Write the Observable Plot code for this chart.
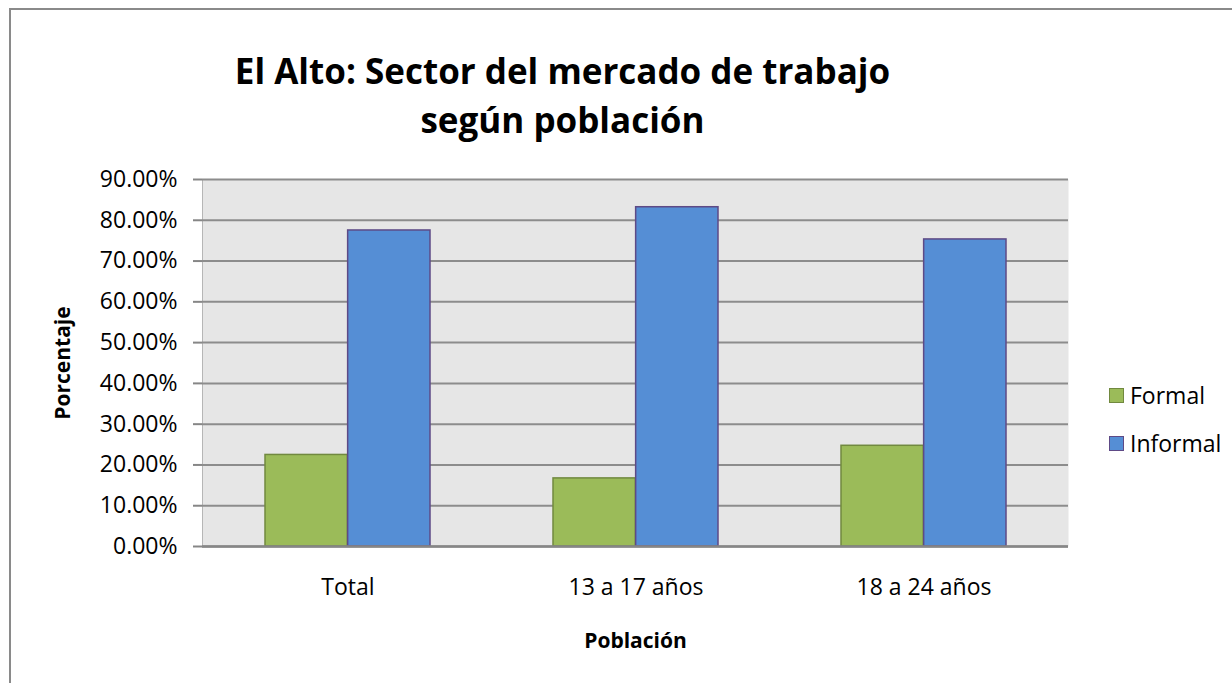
<!DOCTYPE html>
<html>
<head>
<meta charset="utf-8">
<script src="https://cdn.jsdelivr.net/npm/d3@7"></script>
<script src="https://cdn.jsdelivr.net/npm/@observablehq/plot@0.6"></script>
<style>
  html, body { margin: 0; padding: 0; background: #fff; }
  #wrap { position: relative; width: 1232px; height: 683px; overflow: hidden; background: #fff; }
  #border { position: absolute; left: 9px; top: 8px; width: 1400px; height: 900px;
            border-left: 2px solid #8a8a8a; border-top: 2px solid #8a8a8a; pointer-events: none; }
  #chart svg text { font-family: "Open Sans", sans-serif; fill: #000; }
  #chart svg g[aria-label^="x-axis"] text, #chart svg g[aria-label^="y-axis"] text { font-size: 23px; }
  #chart svg g[aria-label^="y-axis"] line, #chart svg g[aria-label^="y-axis"] path { stroke-width: 2px; }
  #legend { position: absolute; left: 1109px; top: 0; font-family: "Open Sans", sans-serif; font-size: 23px; color: #000; }
  .row { position: absolute; left: 0; display: flex; align-items: center; height: 28px; white-space: nowrap; }
  .sw { width: 13px; height: 13px; border: 1.5px solid; margin-right: 6px; }
</style>
</head>
<body>
<div id="wrap">
  <div id="chart"></div>
  <div id="legend"></div>
  <div id="border"></div>
</div>
<script>
const titleText = "El Alto: Sector del mercado de trabajo\nsegún población";
const yLabel = "Porcentaje";
const xLabel = "Población";
const categories = ["Total", "13 a 17 años", "18 a 24 años"];
const series = ["Formal", "Informal"];
const formalValues = [0.2245, 0.167, 0.247];
const informalValues = [0.775, 0.832, 0.753];
const yTicks = [0, 0.1, 0.2, 0.3, 0.4, 0.5, 0.6, 0.7, 0.8, 0.9];
const fills = {Formal: "#9bbb59", Informal: "#558ed5"};
const strokes = {Formal: "#71893f", Informal: "#5e4a86"};

const rows = categories.flatMap((c, i) => [
  {category: c, series: "Formal", value: formalValues[i]},
  {category: c, series: "Informal", value: informalValues[i]}
]);

const W = 1232, H = 683, mL = 202, mR = 164, mT = 179, mB = 137;
const pInner = 0.4274, pOuter = 0.2137;
const step = (W - mL - mR) / (categories.length - pInner + 2 * pOuter);
const half = step * (1 - pInner) / 2;

const chart = Plot.plot({
  width: W, height: H,
  marginLeft: mL, marginRight: mR, marginTop: mT, marginBottom: mB,
  style: {fontFamily: "Open Sans, sans-serif", fontSize: "23px", color: "#868686", background: "transparent", overflow: "visible"},
  x: {domain: categories, paddingInner: pInner, paddingOuter: pOuter, tickSize: 0, tickPadding: 32, label: null, axis: "bottom"},
  y: {domain: [0, 0.9], ticks: yTicks, tickFormat: d => (d * 100).toFixed(2) + "%", tickSize: 9, tickPadding: 16, line: true, label: null},
  marks: [
    Plot.frame({fill: "#e6e6e6", stroke: "none"}),
    Plot.ruleY(yTicks, {stroke: "#8c8c8c", strokeWidth: 2}),
    Plot.barY(rows.filter(d => d.series === "Formal"), {x: "category", y: "value", fill: fills.Formal, stroke: strokes.Formal, strokeWidth: 1.5, insetLeft: 0, insetRight: half}),
    Plot.barY(rows.filter(d => d.series === "Informal"), {x: "category", y: "value", fill: fills.Informal, stroke: strokes.Informal, strokeWidth: 1.5, insetLeft: half, insetRight: 0}),
    Plot.ruleY([0], {stroke: "#868686", strokeWidth: 2.5}),
    Plot.text([titleText], {frameAnchor: "top", dx: 562 - 635, dy: -87, fontSize: 35, fontWeight: "bold", lineHeight: 1.4, lineAnchor: "middle", textAnchor: "middle", fill: "#000"}),
    Plot.text([yLabel], {frameAnchor: "left", dx: -139, rotate: -90, fontSize: 21, fontWeight: "bold", lineAnchor: "middle", textAnchor: "middle", fill: "#000"}),
    Plot.text([xLabel], {frameAnchor: "bottom", dy: 95, fontSize: 21, fontWeight: "bold", lineAnchor: "middle", textAnchor: "middle", fill: "#000"})
  ]
});
document.getElementById("chart").appendChild(chart);

const legend = document.getElementById("legend");
const legendY = {Formal: 395, Informal: 443};
series.forEach(s => {
  const row = document.createElement("div");
  row.className = "row";
  row.style.top = (legendY[s] - 14) + "px";
  const sw = document.createElement("div");
  sw.className = "sw";
  sw.style.background = fills[s];
  sw.style.borderColor = strokes[s];
  const label = document.createElement("span");
  label.textContent = s;
  row.appendChild(sw);
  row.appendChild(label);
  legend.appendChild(row);
});
</script>
</body>
</html>
